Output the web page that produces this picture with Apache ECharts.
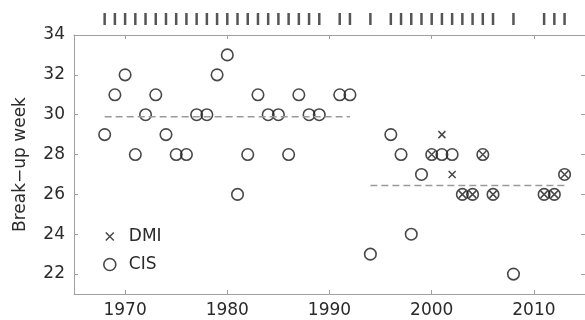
<!DOCTYPE html>
<html>
<head>
<meta charset="utf-8">
<script src="https://cdn.jsdelivr.net/npm/echarts@6/dist/echarts.min.js"></script>
<style>
html,body{margin:0;padding:0;background:#fff;}
#chart{width:585px;height:320px;}
</style>
</head>
<body>
<div id="chart"></div>
<script>
// ---- data ----
const cisYears = [1968,1969,1970,1971,1972,1973,1974,1975,1976,1977,1978,1979,1980,1981,1982,1983,1984,1985,1986,1987,1988,1989,1991,1992,1994,1996,1997,1998,1999,2000,2001,2002,2003,2004,2005,2006,2008,2011,2012,2013];
const cisWeeks = [29,31,32,28,30,31,29,28,28,30,30,32,33,26,28,31,30,30,28,31,30,30,31,31,23,29,28,24,27,28,28,28,26,26,28,26,22,26,26,27];
const dmiYears = [2000,2001,2002,2003,2004,2005,2006,2011,2012,2013];
const dmiWeeks = [28,29,27,26,26,28,26,26,26,27];
const coverageYears = [1968,1969,1970,1971,1972,1973,1974,1975,1976,1977,1978,1979,1980,1981,1982,1983,1984,1985,1986,1987,1988,1989,1991,1992,1994,1996,1997,1998,1999,2000,2001,2002,2003,2004,2005,2006,2008,2011,2012,2013];
const meanEarlyYears = [1968, 1992];
const meanEarlyWeek = 29.9;
const meanLateYears = [1994, 2013];
const meanLateWeek = 26.45;
const xTicks = [1970, 1980, 1990, 2000, 2010];
const yTicks = [22, 24, 26, 28, 30, 32, 34];

const FONT = 'DejaVu Sans';
const AXIS_COLOR = '#a0a0a0';
const TEXT_COLOR = '#2a2a2a';
const MARK_COLOR = '#1a1a1a';
const X_PATH = 'path://M0,0L10,10M10,0L0,10';
const X_LEGEND_PATH = 'path://M0,0M2,2L10,10M10,2L2,10M12,12';

const chart = echarts.init(document.getElementById('chart'), null, {renderer: 'canvas'});

function boxAxis(extra) {
  return Object.assign({
    type: 'value',
    axisLine: {show: true, onZero: false, lineStyle: {color: AXIS_COLOR, width: 1}},
    splitLine: {show: false}
  }, extra);
}

const option = {
  animation: false,
  backgroundColor: '#fff',
  grid: [
    {left: 74, right: -1, top: 35, bottom: 26},
    {left: 74, right: -1, top: 13, height: 12}
  ],
  legend: {
    orient: 'vertical',
    left: 98,
    top: 223,
    itemWidth: 28,
    itemHeight: 12,
    itemGap: 11,
    textStyle: {fontFamily: FONT, fontSize: 17, color: TEXT_COLOR},
    data: [
      {name: 'DMI', icon: X_LEGEND_PATH, itemStyle: {color: 'transparent', borderColor: MARK_COLOR, borderWidth: 1.5}},
      {name: 'CIS', icon: 'circle', itemStyle: {color: 'transparent', borderColor: MARK_COLOR, borderWidth: 1.6}}
    ]
  },
  xAxis: [
    boxAxis({
      gridIndex: 0, min: 1965, max: 2015, position: 'bottom',
      axisTick: {show: true, inside: true, length: 4, customValues: xTicks, lineStyle: {color: AXIS_COLOR}},
      axisLabel: {customValues: xTicks, formatter: v => String(v), fontFamily: FONT, fontSize: 17, color: TEXT_COLOR, margin: 8}
    }),
    boxAxis({
      gridIndex: 0, min: 1965, max: 2015, position: 'top',
      axisTick: {show: true, inside: true, length: 4, customValues: xTicks, lineStyle: {color: AXIS_COLOR}},
      axisLabel: {show: false}
    }),
    {gridIndex: 1, type: 'value', min: 1965, max: 2015, show: false}
  ],
  yAxis: [
    boxAxis({
      gridIndex: 0, min: 21, max: 34, position: 'left',
      name: 'Break\u2212up week', nameLocation: 'middle', nameGap: 45,
      nameTextStyle: {fontFamily: FONT, fontSize: 17, color: TEXT_COLOR},
      axisTick: {show: true, inside: true, length: 4, customValues: yTicks, lineStyle: {color: AXIS_COLOR}},
      axisLabel: {customValues: yTicks, fontFamily: FONT, fontSize: 17, color: TEXT_COLOR, margin: 9}
    }),
    boxAxis({
      gridIndex: 0, min: 21, max: 34, position: 'right',
      axisTick: {show: true, inside: true, length: 4, customValues: yTicks, lineStyle: {color: AXIS_COLOR}},
      axisLabel: {show: false}
    }),
    {gridIndex: 1, type: 'value', min: 0, max: 1, show: false}
  ],
  series: [
    {
      type: 'line', xAxisIndex: 0, yAxisIndex: 0, silent: true, symbol: 'none',
      data: meanEarlyYears.map(y => [y, meanEarlyWeek]),
      lineStyle: {color: '#9a9a9a', width: 1.5, type: [7, 4]}
    },
    {
      type: 'line', xAxisIndex: 0, yAxisIndex: 0, silent: true, symbol: 'none',
      data: meanLateYears.map(y => [y, meanLateWeek]),
      lineStyle: {color: '#9a9a9a', width: 1.5, type: [7, 4]}
    },
    {
      name: 'CIS', type: 'scatter', xAxisIndex: 0, yAxisIndex: 0,
      symbol: 'circle', symbolSize: 11.5,
      itemStyle: {color: 'transparent', borderColor: MARK_COLOR, borderWidth: 1.6},
      data: cisYears.map((y, i) => [y, cisWeeks[i]])
    },
    {
      name: 'DMI', type: 'scatter', xAxisIndex: 0, yAxisIndex: 0,
      symbol: X_PATH, symbolSize: 7,
      itemStyle: {color: 'transparent', borderColor: MARK_COLOR, borderWidth: 1.5},
      data: dmiYears.map((y, i) => [y, dmiWeeks[i]])
    },
    {
      type: 'scatter', xAxisIndex: 2, yAxisIndex: 2, silent: true,
      symbol: 'rect', symbolSize: [2.5, 12],
      itemStyle: {color: '#2a2a2a'},
      data: coverageYears.map(y => [y, 0.5])
    }
  ]
};
chart.setOption(option);
</script>
</body>
</html>
